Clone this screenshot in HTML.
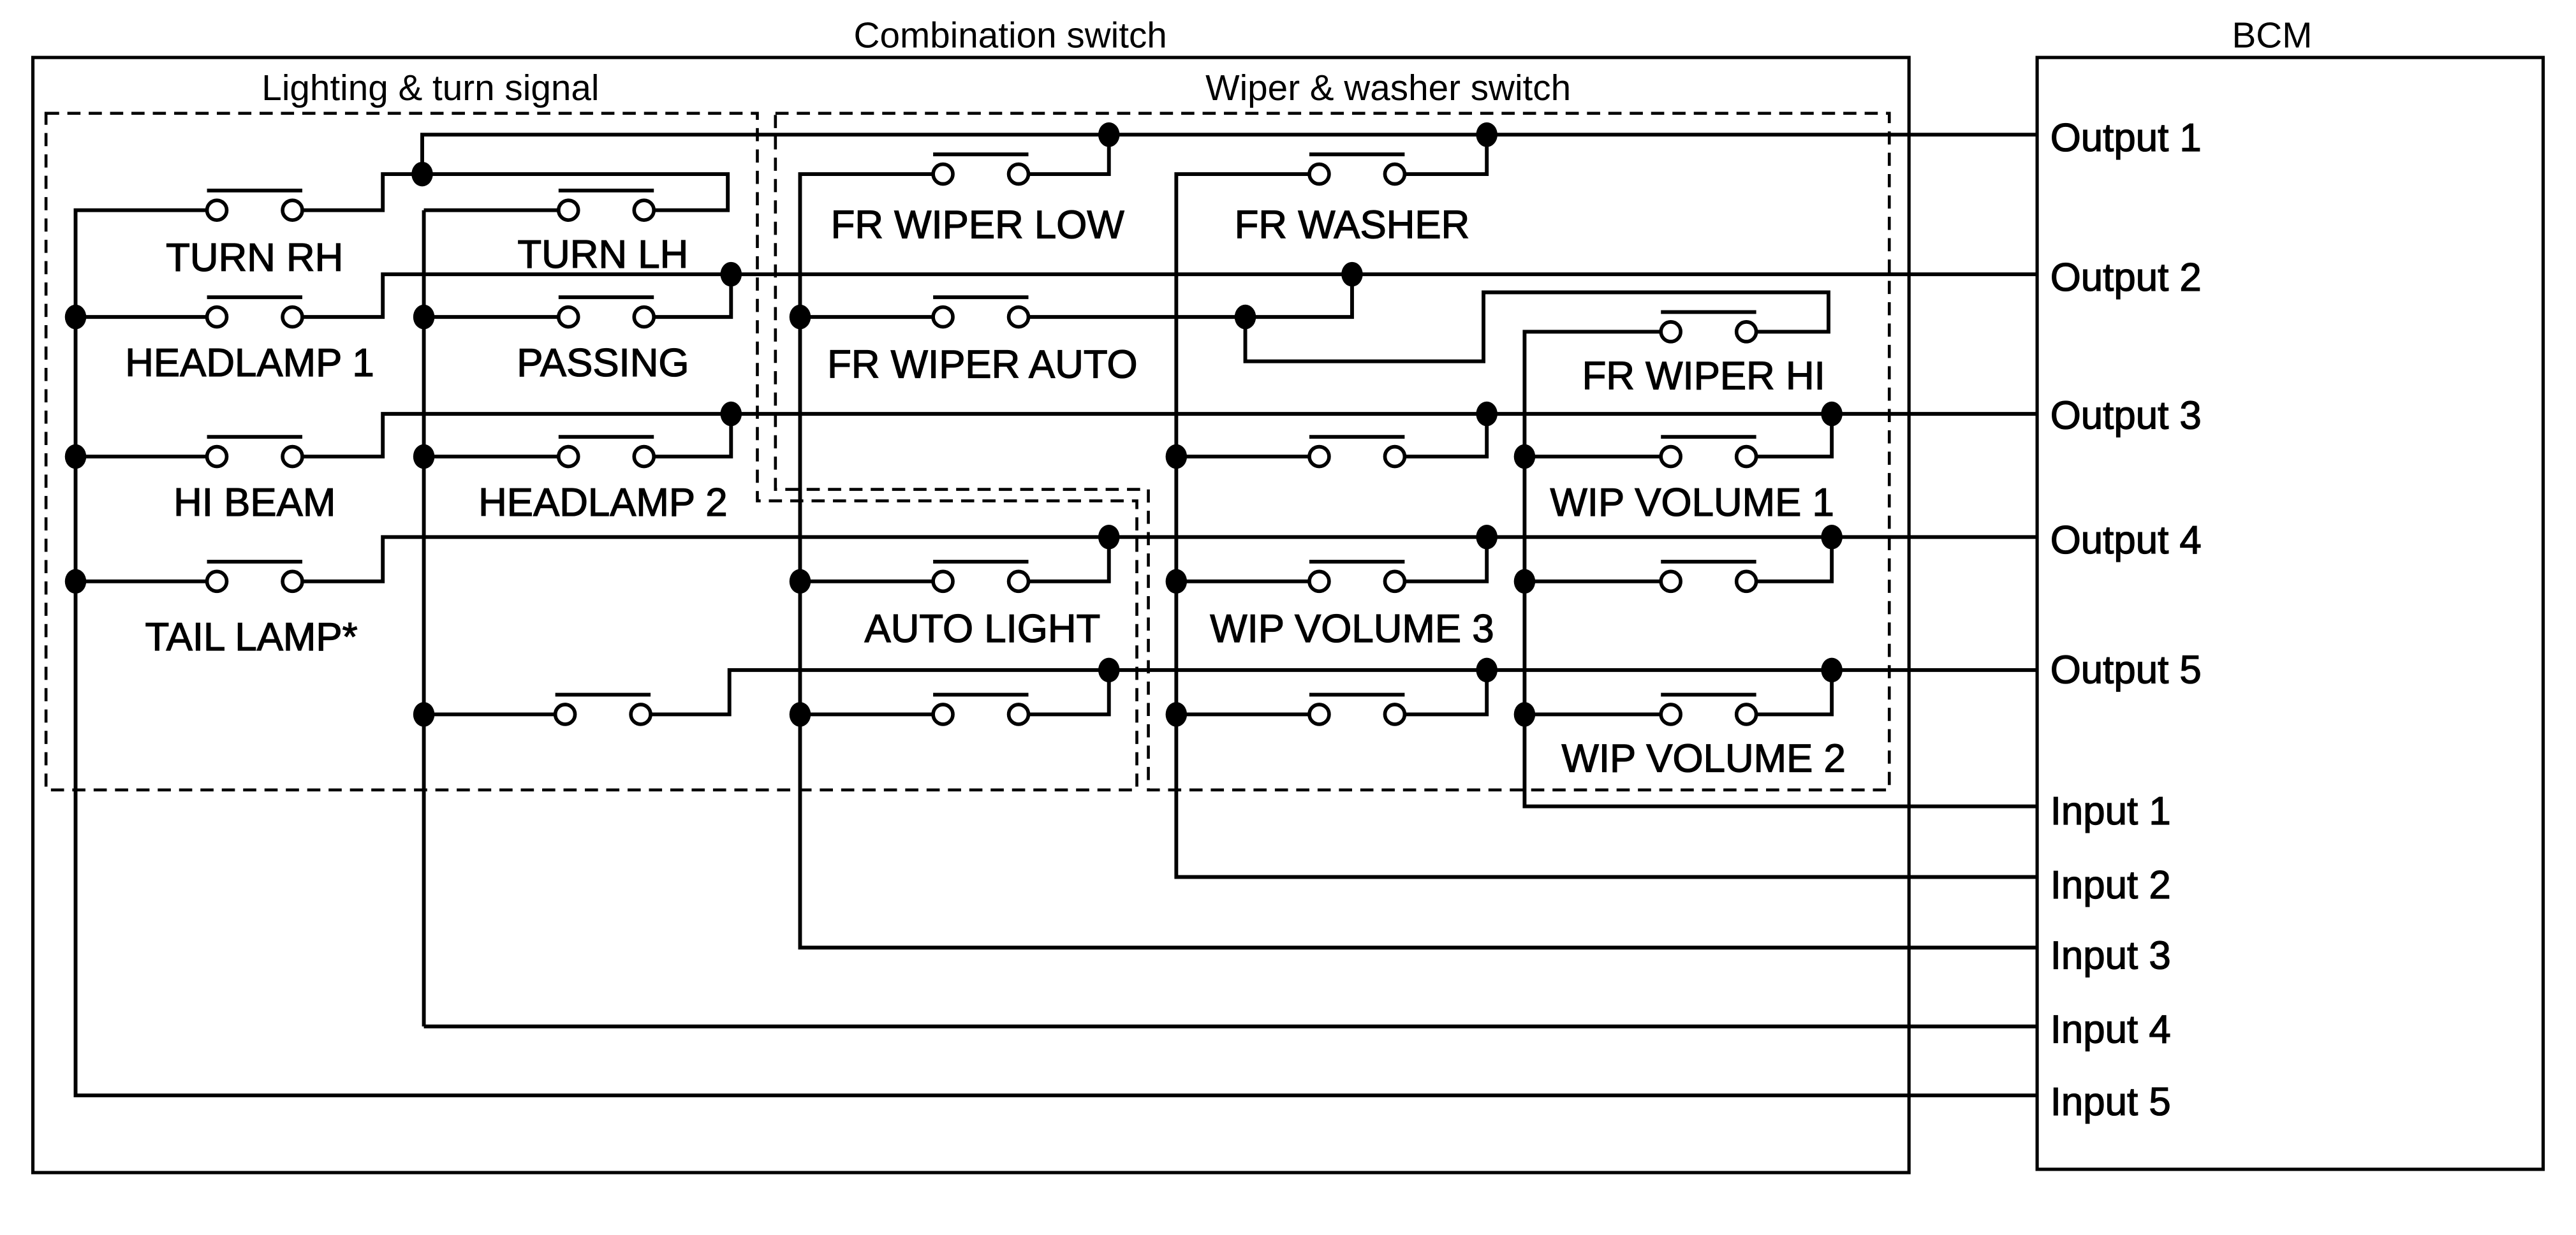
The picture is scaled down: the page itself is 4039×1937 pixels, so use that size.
<!DOCTYPE html>
<html><head><meta charset="utf-8"><style>
html,body{margin:0;padding:0;background:#fff;}
svg{display:block}
text{font-family:"Liberation Sans",sans-serif;font-size:22px;fill:#000;text-anchor:middle}
.l text{font-size:24px;stroke:#000;stroke-width:0.5}
</style></head><body>
<svg width="4039" height="1937" viewBox="0 0 1568 752" preserveAspectRatio="none" xmlns="http://www.w3.org/2000/svg">
<defs>
<g id="sw"><line x1="-29" y1="-12" x2="29" y2="-12" stroke="#000" stroke-width="2.3"/><circle cx="-23" cy="0" r="6" fill="#fff" stroke="#000" stroke-width="2.2"/><circle cx="23" cy="0" r="6" fill="#fff" stroke="#000" stroke-width="2.2"/></g>
</defs>
<rect width="1568" height="752" fill="#fff"/>
<g fill="none" stroke="#000" stroke-width="2">
<rect x="20" y="35" width="1142" height="679"/>
<rect x="1240" y="35" width="308" height="677"/>
</g>
<g fill="none" stroke="#000" stroke-width="1.8" stroke-dasharray="8,5">
<path d="M28 69 H461 V305 H692 V481 H28 Z"/>
<path d="M472 69 H1150 V481 H699 V298 H472 Z"/>
</g>
<g fill="none" stroke="#000" stroke-width="2.3">
<path d="M125 128 H46 V667 H1240"/>
<path d="M258 625 H1240 M258 128 V625 M341 128 H258"/>
<path d="M185 128 H233 V106 H443 V128 H397"/>
<path d="M257 106 V82 H1240"/>
<path d="M46 193 H125 M185 193 H233 V167 H1240 M258 193 H341 M397 193 H445 V167"/>
<path d="M46 278 H125 M185 278 H233 V252 H1240 M258 278 H341 M397 278 H445 V252"/>
<path d="M46 354 H125 M185 354 H233 V327 H1240"/>
<path d="M258 435 H338 M396 435 H444 V408 H1240"/>
<path d="M568 106 H487 V577 H1240"/>
<path d="M626 106 H675 V82"/>
<path d="M487 193 H568 M626 193 H758 H823 V167 M758 193 V220 H903 V178 H1113 V202 H1069"/>
<path d="M487 354 H568 M626 354 H675 V327 M487 435 H568 M626 435 H675 V408"/>
<path d="M797 106 H716 V534 H1240 M855 106 H905 V82"/>
<path d="M716 278 H797 M855 278 H905 V252 M716 354 H797 M855 354 H905 V327 M716 435 H797 M855 435 H905 V408"/>
<path d="M1012 202 H928 V491 H1240"/>
<path d="M928 278 H1012 M1069 278 H1115 V252 M928 354 H1012 M1069 354 H1115 V327 M928 435 H1012 M1069 435 H1115 V408"/>
</g>
<g>
<use href="#sw" x="155" y="128"/><use href="#sw" x="369" y="128"/>
<use href="#sw" x="155" y="193"/><use href="#sw" x="369" y="193"/>
<use href="#sw" x="155" y="278"/><use href="#sw" x="369" y="278"/>
<use href="#sw" x="155" y="354"/><use href="#sw" x="367" y="435"/>
<use href="#sw" x="597" y="106"/><use href="#sw" x="597" y="193"/>
<use href="#sw" x="597" y="354"/><use href="#sw" x="597" y="435"/>
<use href="#sw" x="826" y="106"/><use href="#sw" x="826" y="278"/>
<use href="#sw" x="826" y="354"/><use href="#sw" x="826" y="435"/>
<use href="#sw" x="1040" y="202"/><use href="#sw" x="1040" y="278"/>
<use href="#sw" x="1040" y="354"/><use href="#sw" x="1040" y="435"/>
</g>
<g fill="#000">
<ellipse cx="46" cy="193" rx="6.5" ry="7.5"/><ellipse cx="46" cy="278" rx="6.5" ry="7.5"/><ellipse cx="46" cy="354" rx="6.5" ry="7.5"/>
<ellipse cx="257" cy="106" rx="6.5" ry="7.5"/><ellipse cx="258" cy="193" rx="6.5" ry="7.5"/><ellipse cx="258" cy="278" rx="6.5" ry="7.5"/><ellipse cx="258" cy="435" rx="6.5" ry="7.5"/>
<ellipse cx="445" cy="167" rx="6.5" ry="7.5"/><ellipse cx="445" cy="252" rx="6.5" ry="7.5"/>
<ellipse cx="675" cy="82" rx="6.5" ry="7.5"/><ellipse cx="905" cy="82" rx="6.5" ry="7.5"/>
<ellipse cx="823" cy="167" rx="6.5" ry="7.5"/><ellipse cx="758" cy="193" rx="6.5" ry="7.5"/>
<ellipse cx="487" cy="193" rx="6.5" ry="7.5"/><ellipse cx="487" cy="354" rx="6.5" ry="7.5"/><ellipse cx="487" cy="435" rx="6.5" ry="7.5"/>
<ellipse cx="675" cy="327" rx="6.5" ry="7.5"/><ellipse cx="675" cy="408" rx="6.5" ry="7.5"/>
<ellipse cx="716" cy="278" rx="6.5" ry="7.5"/><ellipse cx="716" cy="354" rx="6.5" ry="7.5"/><ellipse cx="716" cy="435" rx="6.5" ry="7.5"/>
<ellipse cx="905" cy="252" rx="6.5" ry="7.5"/><ellipse cx="905" cy="327" rx="6.5" ry="7.5"/><ellipse cx="905" cy="408" rx="6.5" ry="7.5"/>
<ellipse cx="928" cy="278" rx="6.5" ry="7.5"/><ellipse cx="928" cy="354" rx="6.5" ry="7.5"/><ellipse cx="928" cy="435" rx="6.5" ry="7.5"/>
<ellipse cx="1115" cy="252" rx="6.5" ry="7.5"/><ellipse cx="1115" cy="327" rx="6.5" ry="7.5"/><ellipse cx="1115" cy="408" rx="6.5" ry="7.5"/>
</g>
<g>
<text x="615" y="29">Combination switch</text>
<text x="1383" y="29">BCM</text>
<text x="262" y="61">Lighting &amp; turn signal</text>
<text x="845" y="61">Wiper &amp; washer switch</text>
</g>
<g class="l">
<text x="155" y="165">TURN RH</text>
<text x="367" y="163">TURN LH</text>
<text x="152" y="229">HEADLAMP 1</text>
<text x="367" y="229">PASSING</text>
<text x="155" y="314">HI BEAM</text>
<text x="367" y="314">HEADLAMP 2</text>
<text x="153" y="396">TAIL LAMP*</text>
<text x="595" y="145">FR WIPER LOW</text>
<text x="823" y="145">FR WASHER</text>
<text x="598" y="230">FR WIPER AUTO</text>
<text x="1037" y="237">FR WIPER HI</text>
<text x="1030" y="314">WIP VOLUME 1</text>
<text x="598" y="391">AUTO LIGHT</text>
<text x="823" y="391">WIP VOLUME 3</text>
<text x="1037" y="470">WIP VOLUME 2</text>
<text x="1248" y="92" style="text-anchor:start">Output 1</text>
<text x="1248" y="177" style="text-anchor:start">Output 2</text>
<text x="1248" y="261" style="text-anchor:start">Output 3</text>
<text x="1248" y="337" style="text-anchor:start">Output 4</text>
<text x="1248" y="416" style="text-anchor:start">Output 5</text>
<text x="1248" y="502" style="text-anchor:start">Input 1</text>
<text x="1248" y="547" style="text-anchor:start">Input 2</text>
<text x="1248" y="590" style="text-anchor:start">Input 3</text>
<text x="1248" y="635" style="text-anchor:start">Input 4</text>
<text x="1248" y="679" style="text-anchor:start">Input 5</text>
</g>
</svg>
</body></html>
